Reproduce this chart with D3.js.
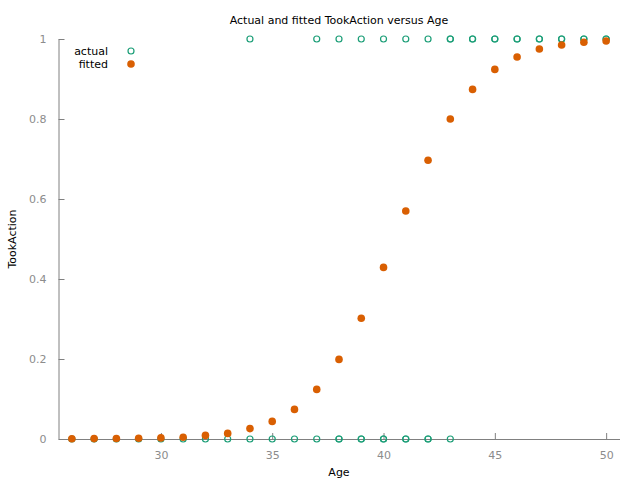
<html>
<head>
<script src="https://cdn.jsdelivr.net/npm/d3@7"></script>
<style>
  body { margin: 0; background: #fff; }
  text { font-family: "DejaVu Sans", sans-serif; }
</style>
</head>
<body>
<svg width="640" height="480"></svg>
<script>
// observed values (duplicated rows where the circles overplot)
var actualAge = [26,27,28,29,30,31,32,33,34,35,36,37,38,38,39,39,40,40,41,41,42,42,43,
                 34,37,38,39,40,41,42,43,43,44,44,45,45,46,46,47,47,48,48,49,49,50,50];
var actualVal = [0,0,0,0,0,0,0,0,0,0,0,0,0,0,0,0,0,0,0,0,0,0,0,
                 1,1,1,1,1,1,1,1,1,1,1,1,1,1,1,1,1,1,1,1,1,1,1];

// fitted values
var fittedAge = [26,27,28,29,30,31,32,33,34,35,36,37,38,39,40,41,42,43,44,45,46,47,48,49,50];
var fittedVal = [0.0005,0.001,0.0012,0.0018,0.0028,0.0045,0.009,0.014,0.026,0.044,0.074,0.124,
                 0.199,0.302,0.429,0.57,0.697,0.80,0.874,0.924,0.955,0.975,0.985,0.992,0.995];

var xTicks = [30,35,40,45,50];
var yTicks = [0,0.2,0.4,0.6,0.8,1];

var svg = d3.select("svg");
var x = d3.scaleLinear().domain([25.4, 50.6]).range([58.5, 619.5]);
var y = d3.scaleLinear().domain([0, 1]).range([439, 39]);

var gx = svg.append("g").attr("transform", "translate(0,439)")
  .call(d3.axisBottom(x).tickValues(xTicks).tickSizeInner(-6).tickSizeOuter(0).tickPadding(12));
var gy = svg.append("g").attr("transform", "translate(58.5,0)")
  .call(d3.axisLeft(y).tickValues(yTicks).tickSizeInner(-6).tickSizeOuter(0).tickPadding(12)
    .tickFormat(function(d){ return String(+d.toFixed(1)); }));

[gx, gy].forEach(function(g){
  g.select(".domain").attr("stroke", "#808080");
  g.selectAll(".tick line").attr("stroke", "#808080");
  g.selectAll(".tick text").attr("fill", "#8c8c8c").style("font-size", "11px")
   .style("font-family", "DejaVu Sans, sans-serif");
});

// actual: open circles
svg.append("g").selectAll("circle")
  .data(actualAge).enter().append("circle")
  .attr("cx", function(d){ return x(d); })
  .attr("cy", function(d,i){ return y(actualVal[i]); })
  .attr("r", 3)
  .attr("fill", "none")
  .attr("stroke", "#1b9e77")
  .attr("stroke-width", 1.2);

// fitted: filled dots
svg.append("g").selectAll("circle")
  .data(fittedAge).enter().append("circle")
  .attr("cx", function(d){ return x(d); })
  .attr("cy", function(d,i){ return y(fittedVal[i]); })
  .attr("r", 3.8)
  .attr("fill", "#d95f02");

// title and axis labels
svg.append("text").attr("x", 339).attr("y", 24).attr("text-anchor", "middle")
  .style("font-size", "11px").text("Actual and fitted TookAction versus Age");
svg.append("text").attr("x", 339).attr("y", 476).attr("text-anchor", "middle")
  .style("font-size", "11px").text("Age");
svg.append("text").attr("transform", "translate(16,239) rotate(-90)").attr("text-anchor", "middle")
  .style("font-size", "11px").text("TookAction");

// legend
var legend = svg.append("g");
legend.append("text").attr("x", 108).attr("y", 55).attr("text-anchor", "end")
  .style("font-size", "11px").text("actual");
legend.append("circle").attr("cx", 131).attr("cy", 51).attr("r", 3)
  .attr("fill", "none").attr("stroke", "#1b9e77").attr("stroke-width", 1.2);
legend.append("text").attr("x", 108).attr("y", 68).attr("text-anchor", "end")
  .style("font-size", "11px").text("fitted");
legend.append("circle").attr("cx", 131).attr("cy", 64).attr("r", 3.8)
  .attr("fill", "#d95f02");
</script>
</body>
</html>
